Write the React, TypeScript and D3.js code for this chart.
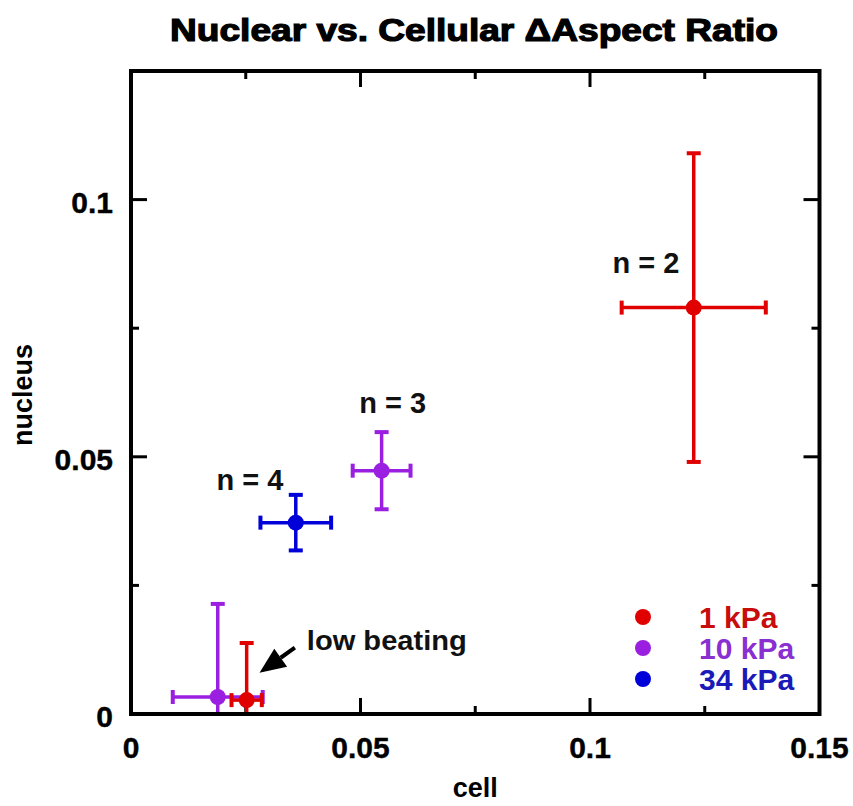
import React from "react";
import * as d3 from "d3";

const groups = ["1 kPa", "10 kPa", "34 kPa"];
const groupColors = ["#e00000", "#9a1fe0", "#0000d8"];
const legendTextColors = ["#c80d0d", "#8a2fd0", "#1a1ab8"];

// points (draw order)
const pointGroups = ["1 kPa", "10 kPa", "34 kPa", "10 kPa", "1 kPa"];
const cellValues = [0.1226, 0.0546, 0.0359, 0.0189, 0.0252];
const nucleusValues = [0.079, 0.0473, 0.0372, 0.0033, 0.0027];
const cellErrors = [0.0157, 0.0063, 0.0077, 0.0098, 0.0033];
const nucleusErrors = [0.03, 0.0075, 0.0054, 0.0181, 0.0111];

const xMajorTicks = [0, 0.05, 0.1, 0.15];
const xTickLabels = ["0", "0.05", "0.1", "0.15"];
const xMinorTicks = [0.025, 0.075, 0.125];
const yMajorTicks = [0, 0.05, 0.1];
const yTickLabels = ["0", "0.05", "0.1"];
const yMinorTicks = [0.025, 0.075, 0.125];

const annotationTexts = ["n = 2", "n = 3", "n = 4"];
const annotationX = [0.1122, 0.057, 0.0259];
const annotationY = [0.0858, 0.0586, 0.0436];

const title = "Nuclear vs. Cellular \u0394Aspect Ratio";
const xLabel = "cell";
const yLabel = "nucleus";
const noteText = "low beating";
const noteAt = [0.0383, 0.01245];
const arrowFrom = [0.0357, 0.0129];
const arrowTo = [0.028, 0.008];

const W = 853;
const H = 806;
const FONT = "'Liberation Sans', Arial, Helvetica, sans-serif";

export default function App() {
  const x = d3.scaleLinear().domain([0, 0.15]).range([131, 819.5]);
  const y = d3.scaleLinear().domain([0, 0.125]).range([714, 71]);
  const [x0, x1] = x.range();
  const [y0, y1] = y.range();
  const color = d3.scaleOrdinal<string, string>().domain(groups).range(groupColors);

  const major = 16;
  const minor = 8;
  const cap = 7;

  // arrow geometry
  const ax0 = x(arrowFrom[0]), ay0 = y(arrowFrom[1]);
  const ax1 = x(arrowTo[0]), ay1 = y(arrowTo[1]);
  const ang = Math.atan2(ay1 - ay0, ax1 - ax0);
  const headLen = 26, headW = 11;
  const bx = ax1 - headLen * Math.cos(ang), by = ay1 - headLen * Math.sin(ang);
  const px = -Math.sin(ang), py = Math.cos(ang);
  const headPts = [
    [ax1, ay1],
    [bx + px * headW, by + py * headW],
    [bx - px * headW, by - py * headW],
  ];

  return (
    <svg width={W} height={H} style={{ position: "absolute", left: 0, top: 0, background: "#fff" }} fontFamily={FONT}>
      <defs>
        <clipPath id="plotClip">
          <rect x={x0} y={y1} width={x1 - x0} height={y0 - y1} />
        </clipPath>
      </defs>
      {/* title */}
      <text x={474} y={41} textAnchor="middle" fontSize={31} fontWeight="bold" textLength={608} lengthAdjust="spacingAndGlyphs" fill="#000" stroke="#000" strokeWidth={1.2}>
        {title}
      </text>

      {/* ticks */}
      <g stroke="#000" strokeWidth={3}>
        {xMajorTicks.map((t) => (
          <g key={"xM" + t}>
            <line x1={x(t)} x2={x(t)} y1={y0} y2={y0 - major} />
            <line x1={x(t)} x2={x(t)} y1={y1} y2={y1 + major} />
          </g>
        ))}
        {xMinorTicks.map((t) => (
          <g key={"xm" + t}>
            <line x1={x(t)} x2={x(t)} y1={y0} y2={y0 - minor} />
            <line x1={x(t)} x2={x(t)} y1={y1} y2={y1 + minor} />
          </g>
        ))}
        {yMajorTicks.map((t) => (
          <g key={"yM" + t}>
            <line x1={x0} x2={x0 + major} y1={y(t)} y2={y(t)} />
            <line x1={x1} x2={x1 - major} y1={y(t)} y2={y(t)} />
          </g>
        ))}
        {yMinorTicks.map((t) => (
          <g key={"ym" + t}>
            <line x1={x0} x2={x0 + minor} y1={y(t)} y2={y(t)} />
            <line x1={x1} x2={x1 - minor} y1={y(t)} y2={y(t)} />
          </g>
        ))}
      </g>

      {/* tick labels */}
      <g fontSize={30} fontWeight="bold" fill="#000" stroke="#000" strokeWidth={0.4}>
        {xMajorTicks.map((t, i) => (
          <text key={"xl" + t} x={x(t)} y={758} textAnchor="middle">
            {xTickLabels[i]}
          </text>
        ))}
        {yMajorTicks.map((t, i) => (
          <text key={"yl" + t} x={113} y={y(t) + 5} textAnchor="end" dominantBaseline="middle">
            {yTickLabels[i]}
          </text>
        ))}
      </g>

      {/* axis titles */}
      <text x={(x0 + x1) / 2} y={797} textAnchor="middle" fontSize={27} fontWeight="bold" fill="#000">
        {xLabel}
      </text>
      <text transform={`translate(32,395) rotate(-90)`} textAnchor="middle" fontSize={27} fontWeight="bold" fill="#000">
        {yLabel}
      </text>

      {/* error bars and points */}
      <g clipPath="url(#plotClip)">
        {cellValues.map((cx, i) => {
          const c = color(pointGroups[i]);
          const px0 = x(cx), py0 = y(nucleusValues[i]);
          const xl = x(cx - cellErrors[i]), xr = x(cx + cellErrors[i]);
          const yt = y(nucleusValues[i] + nucleusErrors[i]), yb = y(nucleusValues[i] - nucleusErrors[i]);
          return (
            <g key={"pt" + i} stroke={c} fill={c}>
              <line x1={xl} x2={xr} y1={py0} y2={py0} strokeWidth={3.5} />
              <line x1={px0} x2={px0} y1={yt} y2={yb} strokeWidth={3.5} />
              <line x1={xl} x2={xl} y1={py0 - cap} y2={py0 + cap} strokeWidth={4} />
              <line x1={xr} x2={xr} y1={py0 - cap} y2={py0 + cap} strokeWidth={4} />
              <line x1={px0 - cap} x2={px0 + cap} y1={yt} y2={yt} strokeWidth={4} />
              <line x1={px0 - cap} x2={px0 + cap} y1={yb} y2={yb} strokeWidth={4} />
              <circle cx={px0} cy={py0} r={8} stroke="none" />
            </g>
          );
        })}
      </g>

      {/* frame */}
      <rect x={x0} y={y1} width={x1 - x0} height={y0 - y1} fill="none" stroke="#000" strokeWidth={4} />

      {/* annotations */}
      <g fontSize={29} fontWeight="bold" fill="#111">
        {annotationTexts.map((t, i) => (
          <text key={t} x={x(annotationX[i])} y={y(annotationY[i])} textAnchor="middle">
            {t}
          </text>
        ))}
        <text x={x(noteAt[0])} y={y(noteAt[1])} fontSize={28} textLength={160} lengthAdjust="spacingAndGlyphs">
          {noteText}
        </text>
      </g>
      <line x1={ax0} y1={ay0} x2={bx} y2={by} stroke="#000" strokeWidth={4} />
      <polygon points={headPts.map((p) => p.join(",")).join(" ")} fill="#000" />

      {/* legend */}
      {groups.map((g, i) => (
        <g key={g}>
          <circle cx={643} cy={617 + i * 31} r={8} fill={groupColors[i]} />
          <text x={699} y={617 + i * 31 + 11} fontSize={30} fontWeight="bold" fill={legendTextColors[i]}>
            {g}
          </text>
        </g>
      ))}
    </svg>
  );
}
